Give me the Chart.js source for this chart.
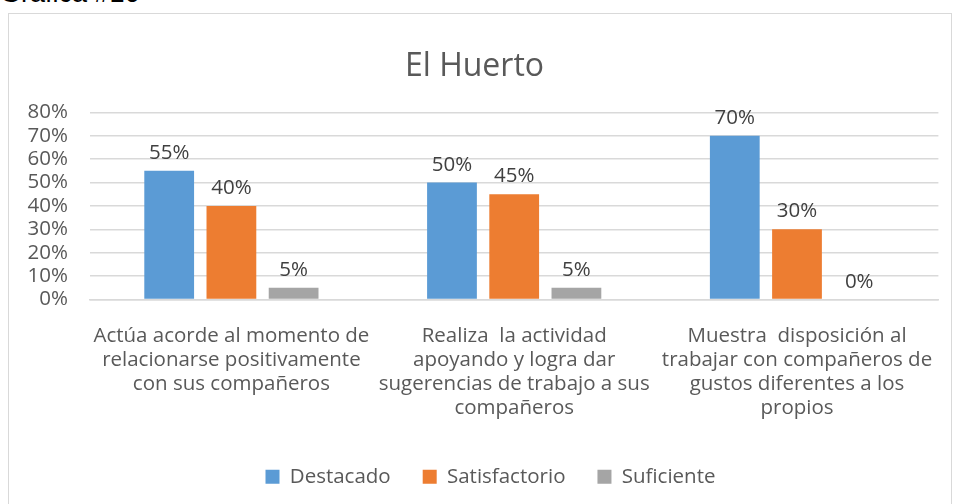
<!DOCTYPE html>
<html>
<head>
<meta charset="utf-8">
<script src="https://cdn.jsdelivr.net/npm/chart.js@4.4.0/dist/chart.umd.min.js"></script>
<style>
	html, body { margin: 0; padding: 0; background: #fff; overflow: hidden; }
	body { width: 954px; height: 504px; position: relative; }
	#caption {
		position: absolute; left: 0; top: -22px;
		font-family: "Liberation Sans", Arial, sans-serif; font-size: 27px; color: #000;
	}
	#frame {
		position: absolute; left: 8px; top: 13px; width: 944px; height: 500px;
		border: 1px solid #d9d9d9; box-sizing: border-box;
	}
	#frame canvas { position: absolute; left: 0; top: 0; }
</style>
</head>
<body>
<div id="caption">Gráfica #16</div>
<div id="frame"><canvas id="chart" width="942" height="498"></canvas></div>
<script>
	'use strict';

	// Chart data
	const categories = [
		['Actúa acorde al momento de', 'relacionarse positivamente', 'con sus compañeros'],
		['Realiza  la actividad', 'apoyando y logra dar', 'sugerencias de trabajo a sus', 'compañeros'],
		['Muestra  disposición al', 'trabajar con compañeros de', 'gustos diferentes a los', 'propios']
	];
	const destacado = [55, 50, 70];
	const satisfactorio = [40, 45, 30];
	const suficiente = [5, 5, 0];
	const yTicks = [0, 10, 20, 30, 40, 50, 60, 70, 80];

	const FONT = '"Open Sans", sans-serif';
	const TEXT = '#595959';
	const SIZE = 20.5;

	/**
	 * Draw value labels above each bar
	 */
	const valueLabels = {
		id: 'valueLabels',
		afterDatasetsDraw(chart) {
			const ctx = chart.ctx;
			ctx.save();
			ctx.font = SIZE + 'px ' + FONT;
			ctx.fillStyle = '#404040';
			ctx.textAlign = 'center';
			ctx.textBaseline = 'alphabetic';
			chart.data.datasets.forEach((ds, i) => {
				chart.getDatasetMeta(i).data.forEach((bar, j) => {
					ctx.fillText(ds.data[j] + '%', bar.x, bar.y - 12);
				});
			});
			ctx.restore();
		}
	};

	/**
	 * Nudge the legend to the right, as in the original
	 */
	const legendShift = {
		id: 'legendShift',
		afterLayout(chart) {
			if (!chart.legend) return;
			chart.legend.left += 16;
			chart.legend.right += 16;
		}
	};

	new Chart(document.getElementById('chart'), {
		type: 'bar',
		data: {
			labels: categories,
			datasets: [
				{ label: 'Destacado', data: destacado, backgroundColor: '#5b9bd5' },
				{ label: 'Satisfactorio', data: satisfactorio, backgroundColor: '#ed7d31' },
				{ label: 'Suficiente', data: suficiente, backgroundColor: '#a5a5a5' }
			]
		},
		options: {
			responsive: false,
			animation: false,
			layout: { padding: { left: 0, right: 11, top: 0, bottom: 15 } },
			datasets: {
				bar: { categoryPercentage: 0.66, barPercentage: 0.8 }
			},
			plugins: {
				title: {
					display: true,
					text: 'El Huerto',
					color: TEXT,
					font: { family: FONT, size: 32, weight: 'normal' },
					padding: { top: 34, bottom: 26 }
				},
				legend: {
					position: 'bottom',
					labels: {
						color: TEXT,
						font: { family: FONT, size: SIZE },
						boxWidth: 14,
						boxHeight: 14,
						padding: 32
					}
				},
				tooltip: { enabled: false }
			},
			scales: {
				x: {
					grid: { display: false },
					border: { display: true, color: '#d9d9d9', width: 1.5 },
					ticks: {
						color: TEXT,
						font: { family: FONT, size: SIZE, lineHeight: 24 / SIZE },
						maxRotation: 0,
						autoSkip: false,
						padding: 17
					},
					afterFit: scale => { scale.height = 135; }
				},
				y: {
					min: 0,
					max: 80,
					afterBuildTicks: scale => { scale.ticks = yTicks.map(v => ({ value: v })); },
					grid: { color: '#d9d9d9', lineWidth: 1.5, drawTicks: false },
					border: { display: false },
					ticks: {
						color: TEXT,
						font: { family: FONT, size: SIZE },
						padding: 22,
						autoSkip: false,
						callback: value => value + '%'
					},
					afterFit: scale => { scale.width = 81; }
				}
			}
		},
		plugins: [valueLabels, legendShift]
	});
</script>
</body>
</html>
